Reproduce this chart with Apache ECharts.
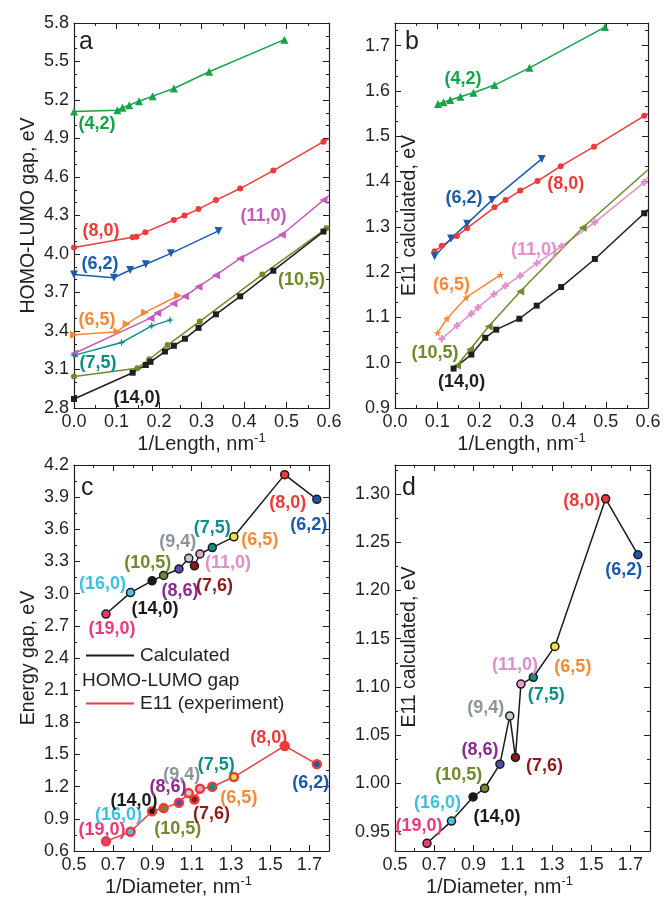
<!DOCTYPE html>
<html>
<head>
<meta charset="utf-8">
<script src="https://cdn.jsdelivr.net/npm/echarts@6/dist/echarts.min.js"></script>
<style>
  html, body { margin: 0; padding: 0; background: #fff; }
  #chart { width: 664px; height: 901px; }
</style>
</head>
<body>
<div id="chart"></div>
<script>
// ---- panel a: HOMO-LUMO gap vs 1/Length
const a42x = [0, 0.102, 0.114, 0.130, 0.153, 0.185, 0.235, 0.318, 0.495];
const a42y = [5.11, 5.12, 5.14, 5.16, 5.19, 5.23, 5.29, 5.42, 5.67];
const a80x = [0, 0.138, 0.147, 0.168, 0.235, 0.260, 0.293, 0.334, 0.391, 0.469, 0.587, 0.6];
const a80y = [4.05, 4.13, 4.135, 4.17, 4.265, 4.30, 4.35, 4.42, 4.51, 4.65, 4.875, 4.90];
const a62x = [0, 0.094, 0.132, 0.169, 0.228, 0.340];
const a62y = [3.84, 3.815, 3.875, 3.92, 4.005, 4.18];
const a110x = [0, 0.180, 0.196, 0.234, 0.261, 0.293, 0.334, 0.391, 0.489, 0.587, 0.6];
const a110y = [3.225, 3.50, 3.54, 3.615, 3.67, 3.745, 3.835, 3.965, 4.15, 4.42, 4.455];
const a65x = [0, 0.102, 0.124, 0.167, 0.245];
const a65y = [3.37, 3.395, 3.455, 3.545, 3.675];
const a75x = [0, 0.112, 0.183, 0.226];
const a75y = [3.21, 3.31, 3.44, 3.485];
const a105x = [0, 0.149, 0.177, 0.220, 0.296, 0.443, 0.594];
const a105y = [3.045, 3.11, 3.18, 3.29, 3.475, 3.84, 4.20];
const a140x = [0, 0.138, 0.169, 0.180, 0.214, 0.235, 0.261, 0.293, 0.334, 0.391, 0.469, 0.587, 0.6];
const a140y = [2.87, 3.075, 3.135, 3.16, 3.24, 3.285, 3.34, 3.425, 3.53, 3.67, 3.87, 4.175, 4.21];

// ---- panel b: E11 calculated vs 1/Length
const b42x = [0.102, 0.115, 0.131, 0.155, 0.186, 0.236, 0.319, 0.498];
const b42y = [1.571, 1.575, 1.580, 1.587, 1.596, 1.613, 1.651, 1.741];
const b80x = [0.094, 0.111, 0.147, 0.171, 0.236, 0.262, 0.297, 0.338, 0.393, 0.472, 0.591, 0.6];
const b80y = [1.246, 1.258, 1.280, 1.297, 1.343, 1.359, 1.380, 1.401, 1.434, 1.477, 1.545, 1.550];
const b62x = [0.094, 0.133, 0.171, 0.230, 0.348];
const b62y = [1.235, 1.274, 1.307, 1.359, 1.450];
const b110x = [0.111, 0.147, 0.181, 0.197, 0.235, 0.262, 0.297, 0.337, 0.395, 0.474, 0.591, 0.6];
const b110y = [1.053, 1.082, 1.108, 1.122, 1.151, 1.170, 1.192, 1.220, 1.257, 1.310, 1.398, 1.411];
const b65x = [0.101, 0.123, 0.169, 0.250];
const b65y = [1.066, 1.097, 1.144, 1.194];
const b105x = [0.147, 0.178, 0.222, 0.297, 0.445, 0.6];
const b105y = [0.994, 1.029, 1.080, 1.157, 1.298, 1.426];
const b140x = [0.139, 0.181, 0.214, 0.240, 0.295, 0.336, 0.394, 0.474, 0.591, 0.6];
const b140y = [0.987, 1.018, 1.055, 1.073, 1.097, 1.126, 1.167, 1.229, 1.330, 1.338];

// ---- panels c, d: vs 1/Diameter
const tubes = ['(19,0)', '(16,0)', '(14,0)', '(10,5)', '(8,6)', '(9,4)', '(7,6)', '(11,0)', '(7,5)', '(6,5)', '(8,0)', '(6,2)'];
const invDiam = [0.663, 0.788, 0.898, 0.957, 1.035, 1.085, 1.114, 1.142, 1.205, 1.315, 1.574, 1.738];
const gapCalc = [2.81, 3.01, 3.12, 3.17, 3.23, 3.33, 3.26, 3.37, 3.43, 3.53, 4.11, 3.88];
const e11Exp = [0.69, 0.78, 0.97, 1.00, 1.05, 1.14, 1.08, 1.18, 1.20, 1.29, 1.58, 1.41];
const e11Calc = [0.938, 0.961, 0.986, 0.995, 1.020, 1.070, 1.027, 1.103, 1.110, 1.142, 1.295, 1.237];

// tick labels
const lenTicks = [0, 0.1, 0.2, 0.3, 0.4, 0.5, 0.6];
const gapTicksA = [2.8, 3.1, 3.4, 3.7, 4.0, 4.3, 4.6, 4.9, 5.2, 5.5, 5.8];
const e11TicksB = [0.9, 1.0, 1.1, 1.2, 1.3, 1.4, 1.5, 1.6, 1.7];
const gapTicksC = [0.6, 0.9, 1.2, 1.5, 1.8, 2.1, 2.4, 2.7, 3.0, 3.3, 3.6, 3.9, 4.2];
const diamTicks = [0.5, 0.7, 0.9, 1.1, 1.3, 1.5, 1.7];
const e11TicksD = [0.95, 1.00, 1.05, 1.10, 1.15, 1.20, 1.25, 1.30];

const FONT = '"Liberation Sans", Arial, Helvetica, sans-serif';
const INK = '#231f20';
const tubeFill = ['#ec3a78', '#4cc6e0', '#1a1a1a', '#6f8b2d', '#5a4cae', '#c9cbcc', '#8e1b1b', '#e6a2cf', '#0b8f88', '#f0e53c', '#ee3a3a', '#1d58ac'];
const tubeInk = ['#ec3a78', '#3fc1dd', '#1a1a1a', '#6f8b2d', '#8c2a8e', '#8c969a', '#8e1b1b', '#de8fc8', '#0b8f88', '#f68a3b', '#ee3a3a', '#1d58ac'];

const STAR = 'path://M50,0 L61,35 L98,35 L68,57 L79,91 L50,70 L21,91 L32,57 L2,35 L39,35 Z';
const SPARK = 'path://M50,0 L62,38 L100,50 L62,62 L50,100 L38,62 L0,50 L38,38 Z';
const PLUS = 'path://M33,0 H67 V33 H100 V67 H67 V100 H33 V67 H0 V33 H33 Z';

function steps(from, to, step) {
  const out = [];
  for (let v = from; v <= to + 1e-9; v += step) out.push(+v.toFixed(4));
  return out;
}

const grids = [
  { left: 74, top: 23, width: 255, height: 385 },
  { left: 395, top: 23, width: 253, height: 385 },
  { left: 74, top: 465, width: 255, height: 386 },
  { left: 395, top: 465, width: 255, height: 386 }
];

const xAxes = [];
const yAxes = [];

const supRich = { s: { fontSize: 13, fontFamily: FONT, color: INK, padding: [0, 0, 12, 0] } };

function addAxes(list, g, dim, range, major, minor, digits, name, gap, namePad) {
  const sides = dim === 'x' ? ['bottom', 'top'] : ['left', 'right'];
  sides.forEach((side, k) => {
    [major, minor].forEach((vals, m) => {
      const main = k === 0 && m === 0;
      list.push({
        type: 'value', gridIndex: g, position: side, min: range[0], max: range[1],
        name: main ? name : '',
        nameLocation: 'middle', nameGap: gap,
        nameTextStyle: { fontSize: dim === 'x' ? 20 : 19.5, color: INK, fontFamily: FONT, padding: namePad || 0, rich: supRich },
        axisLine: { show: m === 0, onZero: false, lineStyle: { color: INK, width: 1.2 } },
        axisTick: { show: true, inside: true, length: m === 0 ? 6 : 3, customValues: vals, lineStyle: { color: INK, width: 1 } },
        axisLabel: { show: main, customValues: major, formatter: v => v.toFixed(digits), fontSize: 18, color: INK, fontFamily: FONT, margin: 5 },
        splitLine: { show: false }
      });
    });
  });
}

addAxes(xAxes, 0, 'x', [0, 0.6], lenTicks, steps(0, 0.6, 0.05), 1, '1/Length, nm{s|-1}', 12);
addAxes(yAxes, 0, 'y', [2.8, 5.8], gapTicksA, steps(2.8, 5.8, 0.1), 1, 'HOMO-LUMO gap, eV', 35);
addAxes(xAxes, 1, 'x', [0, 0.6], lenTicks, steps(0, 0.6, 0.05), 1, '1/Length, nm{s|-1}', 12);
addAxes(yAxes, 1, 'y', [0.9, 1.75], e11TicksB, steps(0.9, 1.75, 0.1 / 3), 1, 'E11 calculated, eV', -25);
addAxes(xAxes, 2, 'x', [0.5, 1.8], diamTicks, steps(0.5, 1.8, 0.1), 1, '1/Diameter, nm{s|-1}', 19, [0, 46, 0, 0]);
addAxes(yAxes, 2, 'y', [0.6, 4.2], gapTicksC, steps(0.6, 4.2, 0.15), 1, 'Energy gap, eV', 35);
addAxes(xAxes, 3, 'x', [0.5, 1.8], diamTicks, steps(0.5, 1.8, 0.1), 1, '1/Diameter, nm{s|-1}', 19, [0, 46, 0, 0]);
addAxes(yAxes, 3, 'y', [0.93, 1.33], e11TicksD, steps(0.95, 1.33, 0.025), 2, 'E11 calculated, eV', -25, [0, 0, 0, 22]);

// one curve of panels a/b
function curve(g, s) {
  return {
    type: 'line', xAxisIndex: g * 4, yAxisIndex: g * 4,
    symbol: s.symbol, symbolSize: s.size || 7, symbolRotate: s.rot || 0,
    showSymbol: true, animation: false, z: 3,
    lineStyle: { color: s.color, width: 1.5 }, itemStyle: { color: s.color },
    data: s.x.map((x, i) => {
      const item = { value: [x, s.y[i]] };
      if (s.edge && i === s.x.length - 1) item.symbol = 'none';
      if (i === s.at) {
        item.label = { show: true, formatter: s.label, position: 'inside', offset: s.off,
          color: s.color, fontSize: 18, fontWeight: 'bold', fontFamily: FONT };
      }
      return item;
    })
  };
}

const GREEN = '#17a348', RED = '#ee3b3a', BLUE = '#1d5cab', MAG = '#c65bbd', PINK = '#e58fcb',
  ORANGE = '#f7883a', TEAL = '#0a8e85', OLIVE = '#6d8b2b', BLACK = '#1f1f1f';

const specA = [
  { x: a42x, y: a42y, color: GREEN, symbol: 'triangle', size: 8, label: '(4,2)', at: 0, off: [23, 12] },
  { x: a80x, y: a80y, color: RED, symbol: 'circle', size: 6, edge: true, label: '(8,0)', at: 0, off: [27, -17] },
  { x: a62x, y: a62y, color: BLUE, symbol: 'triangle', rot: 180, size: 8, label: '(6,2)', at: 0, off: [26, -11] },
  { x: a110x, y: a110y, color: MAG, symbol: 'triangle', rot: 90, size: 8, edge: true, label: '(11,0)', at: 9, off: [-60, 16] },
  { x: a65x, y: a65y, color: ORANGE, symbol: 'triangle', rot: -90, size: 8, label: '(6,5)', at: 0, off: [23, -15] },
  { x: a75x, y: a75y, color: TEAL, symbol: SPARK, size: 8, label: '(7,5)', at: 0, off: [24, 8] },
  { x: a105x, y: a105y, color: OLIVE, symbol: 'circle', size: 6, label: '(10,5)', at: 6, off: [-25, 52] },
  { x: a140x, y: a140y, color: BLACK, symbol: 'rect', size: 6, edge: true, label: '(14,0)', at: 0, off: [63, -1] }
];
const specB = [
  { x: b42x, y: b42y, color: GREEN, symbol: 'triangle', size: 8, label: '(4,2)', at: 0, off: [25, -25] },
  { x: b80x, y: b80y, color: RED, symbol: 'circle', size: 6, edge: true, label: '(8,0)', at: 8, off: [5, 18] },
  { x: b62x, y: b62y, color: BLUE, symbol: 'triangle', rot: 180, size: 8, label: '(6,2)', at: 3, off: [-28, -2] },
  { x: b110x, y: b110y, color: PINK, symbol: PLUS, size: 7, edge: true, label: '(11,0)', at: 7, off: [-3, -13] },
  { x: b65x, y: b65y, color: ORANGE, symbol: STAR, size: 8, label: '(6,5)', at: 0, off: [14, -48] },
  { x: b105x, y: b105y, color: OLIVE, symbol: 'triangle', rot: 90, size: 8, edge: true, label: '(10,5)', at: 0, off: [-22, -12] },
  { x: b140x, y: b140y, color: BLACK, symbol: 'rect', size: 6, edge: true, label: '(14,0)', at: 0, off: [8, 13] }
];

// label offsets (px) for the tube labels in c and d
const offCalc = [[6, 15], [-28, -9], [3, 28], [-16, -12], [1, 22], [-11, -16], [20, 20], [28, 9], [0, -20], [26, 3], [3, 28], [-8, 26]];
const offExp = [[-4, -11], [-12, -17], [-18, -10], [14, 21], [-11, -16], [-7, -18], [17, 14], null, [4, -22], [5, 21], [-16, -8], [-6, 19]];
const offD = [[-8, -17], [-14, -18], [24, 20], [-26, -13], [-20, -14], [-24, -8], [29, 9], [-6, -19], [13, 18], [18, 21], [-24, 2], [-14, 15]];

function tubeLine(g, name, ys, lineColor, ring, ringWidth, offs) {
  return {
    name, type: 'line', xAxisIndex: g * 4, yAxisIndex: g * 4,
    symbol: 'circle', symbolSize: 8, animation: false, z: 3,
    lineStyle: { color: lineColor, width: 1.5 },
    itemStyle: { color: lineColor },
    data: invDiam.map((x, i) => ({
      value: [x, ys[i]],
      itemStyle: { color: tubeFill[i], borderColor: ring, borderWidth: ringWidth },
      label: offs[i] ? { show: true, formatter: tubes[i], position: 'inside', offset: offs[i],
        color: tubeInk[i], fontSize: 18, fontWeight: 'bold', fontFamily: FONT } : { show: false }
    }))
  };
}

const series = [
  ...specA.map(s => curve(0, s)),
  ...specB.map(s => curve(1, s)),
  tubeLine(2, 'Calculated', gapCalc, '#1a1a1a', '#1a1a1a', 1.5, offCalc),
  tubeLine(2, 'E11 (experiment)', e11Exp, RED, RED, 2.5, offExp),
  tubeLine(3, 'd', e11Calc, '#1a1a1a', '#1a1a1a', 1.5, offD)
];

const letter = (t, x, y) => ({ type: 'text', left: x, top: y, style: { text: t, font: '25px ' + FONT, fill: INK } });

const chart = echarts.init(document.getElementById('chart'));
chart.setOption({
  animation: false,
  backgroundColor: '#fff',
  textStyle: { fontFamily: FONT },
  grid: grids,
  xAxis: xAxes,
  yAxis: yAxes,
  legend: {
    data: [
      { name: 'Calculated', itemStyle: { color: '#1a1a1a' } },
      { name: 'E11 (experiment)', itemStyle: { color: RED } }
    ],
    icon: 'rect', itemWidth: 48, itemHeight: 2, orient: 'vertical', left: 81, top: 641, itemGap: 29,
    textStyle: { fontSize: 19, color: INK, fontFamily: FONT, padding: [0, 0, 0, 1] },
    selectedMode: false
  },
  graphic: [
    letter('a', 79, 30),
    letter('b', 405, 30),
    letter('c', 81, 476),
    letter('d', 402, 476),
    { type: 'text', left: 82, top: 671, style: { text: 'HOMO-LUMO gap', font: '19px ' + FONT, fill: INK } }
  ],
  series
});
</script>
</body>
</html>
